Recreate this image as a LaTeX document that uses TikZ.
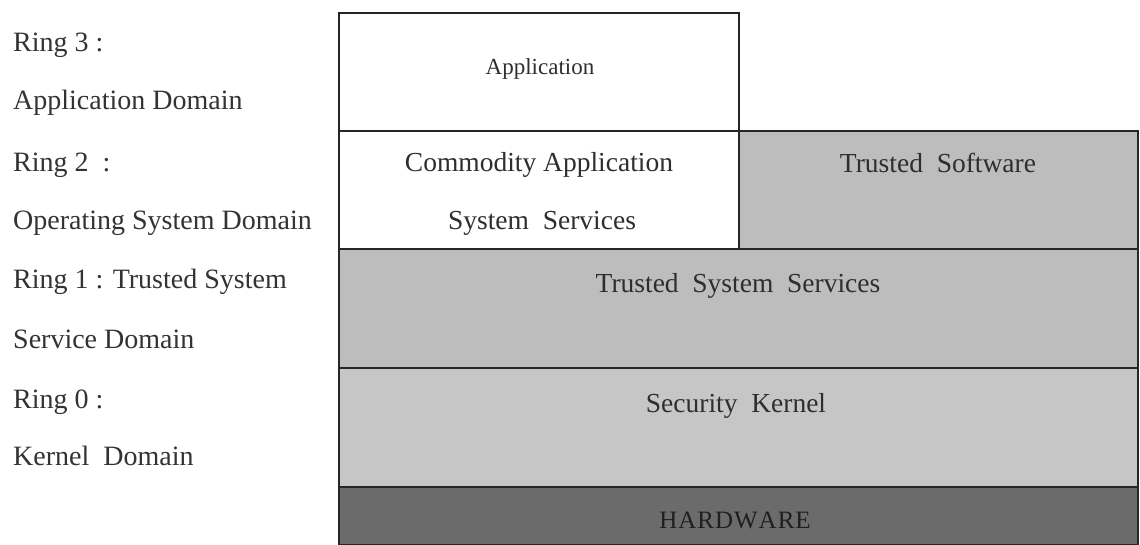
\documentclass[tikz,border=0pt]{standalone}
\usepackage{fontspec}
\setmainfont{Liberation Serif}
\begin{document}
\begin{tikzpicture}[x=1pt,y=-1pt,
  layer/.style={draw=black!85, line width=1.6pt, inner sep=0pt, anchor=north west},
  whitebox/.style={layer, fill=white},
  graybox/.style={layer, fill=gray!52},
  lightbox/.style={layer, fill=gray!45},
  darkbox/.style={layer, fill=black!58},
  lbl/.style={anchor=base west, inner sep=0pt, font=\fontsize{28}{30}\selectfont, text=black!80},
  txt/.style={anchor=base, inner sep=0pt, font=\fontsize{27.5}{30}\selectfont, text=black!82}]
\useasboundingbox (0,0) rectangle (1140,545);
\fill[white] (0,0) rectangle (1140,545);
% boxes
\node[whitebox, minimum width=400pt, minimum height=118pt] (app) at (338,12) {};
\node[whitebox, minimum width=400pt, minimum height=118pt] (comm) at (338,130) {};
\node[graybox, minimum width=399pt, minimum height=118pt] (tsw) at (738,130) {};
\node[graybox, minimum width=799pt, minimum height=119pt] (tss) at (338,248) {};
\node[lightbox, minimum width=799pt, minimum height=119pt] (sk) at (338,367) {};
\node[darkbox, minimum width=799pt, minimum height=58pt] (hw) at (338,486) {};
% box texts
\node[txt, font=\fontsize{23}{26}\selectfont] (tapp) at (540,75) {Application};
\node[txt] (tcomm1) at (539,172) {Commodity Application};
\node[txt] (tcomm2) at (542,230) {System\ \ Services};
\node[txt] (ttsw) at (938,173) {Trusted\ \ Software};
\node[txt] (ttss) at (738,292) {Trusted\ \ System\ \ Services};
\node[txt] (tsk) at (736,412) {Security\ \ Kernel};
\node[txt, font=\fontsize{25}{28}\selectfont, text=black!88] (thw) at (735,528) {H\kern1ptA\kern1ptR\kern1ptD\kern1ptW\kern1ptA\kern1ptR\kern1ptE};
% left labels
\node[lbl] (r3) at (13,52) {Ring 3 :};
\node[lbl] (r3d) at (13,110) {Application Domain};
\node[lbl] (r2) at (13,172) {Ring 2\ \ :};
\node[lbl] (r2d) at (13,230) {Operating System Domain};
\node[lbl] (r1) at (13,288) {Ring 1 : Trusted System};
\node[lbl] (r1d) at (13,348) {Service Domain};
\node[lbl] (r0) at (13,408) {Ring 0 :};
\node[lbl] (r0d) at (13,465) {Kernel\ \ Domain};
\end{tikzpicture}
\end{document}
